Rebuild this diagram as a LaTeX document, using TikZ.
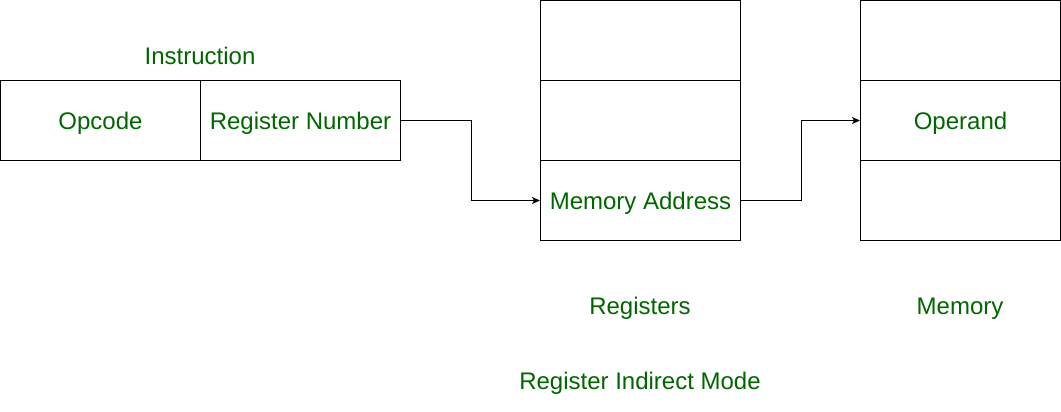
\documentclass[tikz,border=0pt]{standalone}
\usepackage{fontspec}
\setmainfont{Liberation Sans}
\usetikzlibrary{arrows.meta}
\definecolor{txtgreen}{HTML}{006600}
\begin{document}
\begin{tikzpicture}[x=1bp,y=-1bp,
  cell/.style={draw=black, line width=1bp, minimum width=200bp, minimum height=80bp, inner sep=0pt, text height=17.2bp, text depth=0pt, text=txtgreen, font=\fontsize{24bp}{28bp}\selectfont},
  lbl/.style={text=txtgreen, inner sep=0pt, text height=17.2bp, text depth=0pt, font=\fontsize{24bp}{28bp}\selectfont},
  arr/.style={draw=black, line width=1bp, -{Stealth[length=8bp,width=7bp,inset=2bp]}}]
\useasboundingbox (0,0) rectangle (1061,411);
\node[cell] (op) at (100.5,120.5) {Opcode};
\node[cell] (rn) at (300.5,120.5) {Register Number};
\node[lbl] (instr) at (200,55.5) {Instruction};
\node[cell] (r1) at (640.5,40.5) {};
\node[cell] (r2) at (640.5,120.5) {};
\node[cell] (ma) at (640.5,200.5) {Memory Address};
\node[cell] (m1) at (960.5,40.5) {};
\node[cell] (opd) at (960.5,120.5) {Operand};
\node[cell] (m3) at (960.5,200.5) {};
\node[lbl] (regs) at (640,306) {Registers};
\node[lbl] (mem) at (960,306) {Memory};
\node[lbl] (title) at (640,381) {Register Indirect Mode};
\draw[arr] (rn.east) -- ++(70,0) |- (ma.west);
\draw[arr] (ma.east) -- ++(60,0) |- (opd.west);
\end{tikzpicture}
\end{document}
